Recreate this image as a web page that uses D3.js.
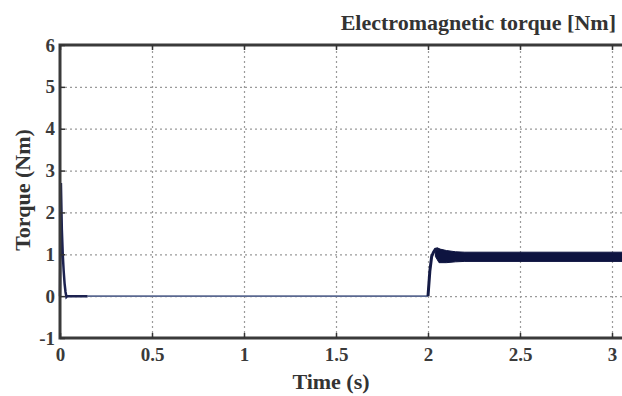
<!DOCTYPE html>
<html>
<head>
<meta charset="utf-8">
<script src="https://cdn.jsdelivr.net/npm/d3@7"></script>
<style>
  body { margin: 0; background: #fff; }
  svg { display: block; }
  .grid line { stroke: #9a9a9a; stroke-dasharray: 2,3; stroke-width: 1.2; }
  .grid path { display: none; }
</style>
</head>
<body>
<svg width="622" height="396"></svg>
<script>
// Torque trace (time s, torque Nm)
const timeStart  = [0, 0.005, 0.01, 0.015, 0.02, 0.025, 0.03, 0.035, 0.04, 0.06, 0.1, 0.15];
const torqueStart = [0, 2.7, 1.6, 1.0, 0.6, 0.3, 0.1, -0.02, 0.0, 0.0, 0.0, 0.0];

const timeFlat   = [0.15, 1.99, 2.0, 2.01, 2.02, 2.03, 2.04, 2.05, 2.06];
const torqueFlat = [0.0, 0.0, 0.0, 0.6, 0.95, 1.05, 1.12, 1.13, 1.1];

// Ripple band envelope after load step
const bandTime  = [2.04, 2.06, 2.1, 2.15, 2.2, 2.5, 3.0, 3.06];
const bandUpper = [1.12, 1.13, 1.09, 1.06, 1.05, 1.05, 1.05, 1.05];
const bandLower = [0.95, 0.8, 0.8, 0.82, 0.83, 0.83, 0.83, 0.83];

const xTicks = [0, 0.5, 1, 1.5, 2, 2.5, 3];
const yTicks = [-1, 0, 1, 2, 3, 4, 5, 6];

const svg = d3.select("svg");
const margin = {top: 45, left: 60, bottom: 338};
const serif = "'Liberation Serif', 'DejaVu Serif', serif";

const scaleX = d3.scaleLinear().domain([0, 3]).range([margin.left, 612]);
const scaleY = d3.scaleLinear().domain([-1, 6]).range([margin.bottom, margin.top]);
const right = 640;

// grid
svg.append("g")
  .attr("class", "grid")
  .attr("transform", `translate(0,${margin.bottom})`)
  .call(d3.axisBottom(scaleX).tickValues(xTicks.slice(1)).tickSize(-(margin.bottom - margin.top)).tickFormat(""));

svg.append("g")
  .attr("class", "grid")
  .attr("transform", `translate(${margin.left},0)`)
  .call(d3.axisLeft(scaleY).tickValues(yTicks.slice(1, -1)).tickSize(-(right - margin.left)).tickFormat(""));

// band
const band = d3.area()
  .x((d, i) => scaleX(bandTime[i]))
  .y0((d, i) => scaleY(bandLower[i]))
  .y1((d, i) => scaleY(bandUpper[i]));

svg.append("path")
  .attr("d", band(bandTime))
  .attr("fill", "#0e1440")
  .attr("stroke", "#0e1440")
  .attr("stroke-width", 1);

const line = d3.line().x(d => scaleX(d[0])).y(d => scaleY(d[1]));

svg.append("path")
  .attr("d", line(timeFlat.slice(0, 3).map((t, i) => [t, torqueFlat[i]])))
  .attr("fill", "none")
  .attr("stroke", "#5a6890")
  .attr("stroke-width", 1.6);

svg.append("path")
  .attr("d", line(timeFlat.slice(2).map((t, i) => [t, torqueFlat[i + 2]])))
  .attr("fill", "none")
  .attr("stroke", "#141a45")
  .attr("stroke-width", 3);

svg.append("path")
  .attr("d", line(timeStart.map((t, i) => [t, torqueStart[i]])))
  .attr("fill", "none")
  .attr("stroke", "#1c2250")
  .attr("stroke-width", 2.5);

// frame
svg.append("path")
  .attr("d", `M${right},${margin.top}H${margin.left}V${margin.bottom}H${right}`)
  .attr("fill", "none")
  .attr("stroke", "#3a3a3a")
  .attr("stroke-width", 3);

// ticks
const xAxis = svg.append("g")
  .attr("transform", `translate(0,${margin.bottom})`)
  .call(d3.axisBottom(scaleX).tickValues(xTicks).tickSize(-5).tickPadding(10).tickFormat(d => d));
xAxis.select(".domain").remove();
xAxis.selectAll(".tick line").attr("stroke", "#333").attr("stroke-width", 1.5);

svg.append("g")
  .attr("transform", `translate(0,${margin.top})`)
  .call(d3.axisTop(scaleX).tickValues(xTicks).tickSize(-5).tickFormat(""))
  .call(g => g.select(".domain").remove())
  .selectAll(".tick line").attr("stroke", "#333").attr("stroke-width", 1.5);

const yAxis = svg.append("g")
  .attr("transform", `translate(${margin.left},0)`)
  .call(d3.axisLeft(scaleY).tickValues(yTicks).tickSize(-5).tickPadding(5).tickFormat(d => d));
yAxis.select(".domain").remove();
yAxis.selectAll(".tick line").attr("stroke", "#333").attr("stroke-width", 1.5);

[xAxis, yAxis].forEach(a => a.selectAll(".tick text")
  .attr("font-family", serif)
  .attr("font-size", 19)
  .attr("font-weight", "bold")
  .attr("fill", "#3a3a3a"));

// labels
svg.append("text")
  .attr("x", 616).attr("y", 30)
  .attr("text-anchor", "end")
  .attr("font-family", serif).attr("font-weight", "bold").attr("font-size", 22)
  .attr("fill", "#333")
  .text("Electromagnetic torque [Nm]");

svg.append("text")
  .attr("x", 331).attr("y", 389)
  .attr("text-anchor", "middle")
  .attr("font-family", serif).attr("font-weight", "bold").attr("font-size", 22)
  .attr("fill", "#333")
  .text("Time (s)");

svg.append("text")
  .attr("transform", "translate(30,190) rotate(-90)")
  .attr("text-anchor", "middle")
  .attr("font-family", serif).attr("font-weight", "bold").attr("font-size", 22)
  .attr("fill", "#333")
  .text("Torque (Nm)");
</script>
</body>
</html>
